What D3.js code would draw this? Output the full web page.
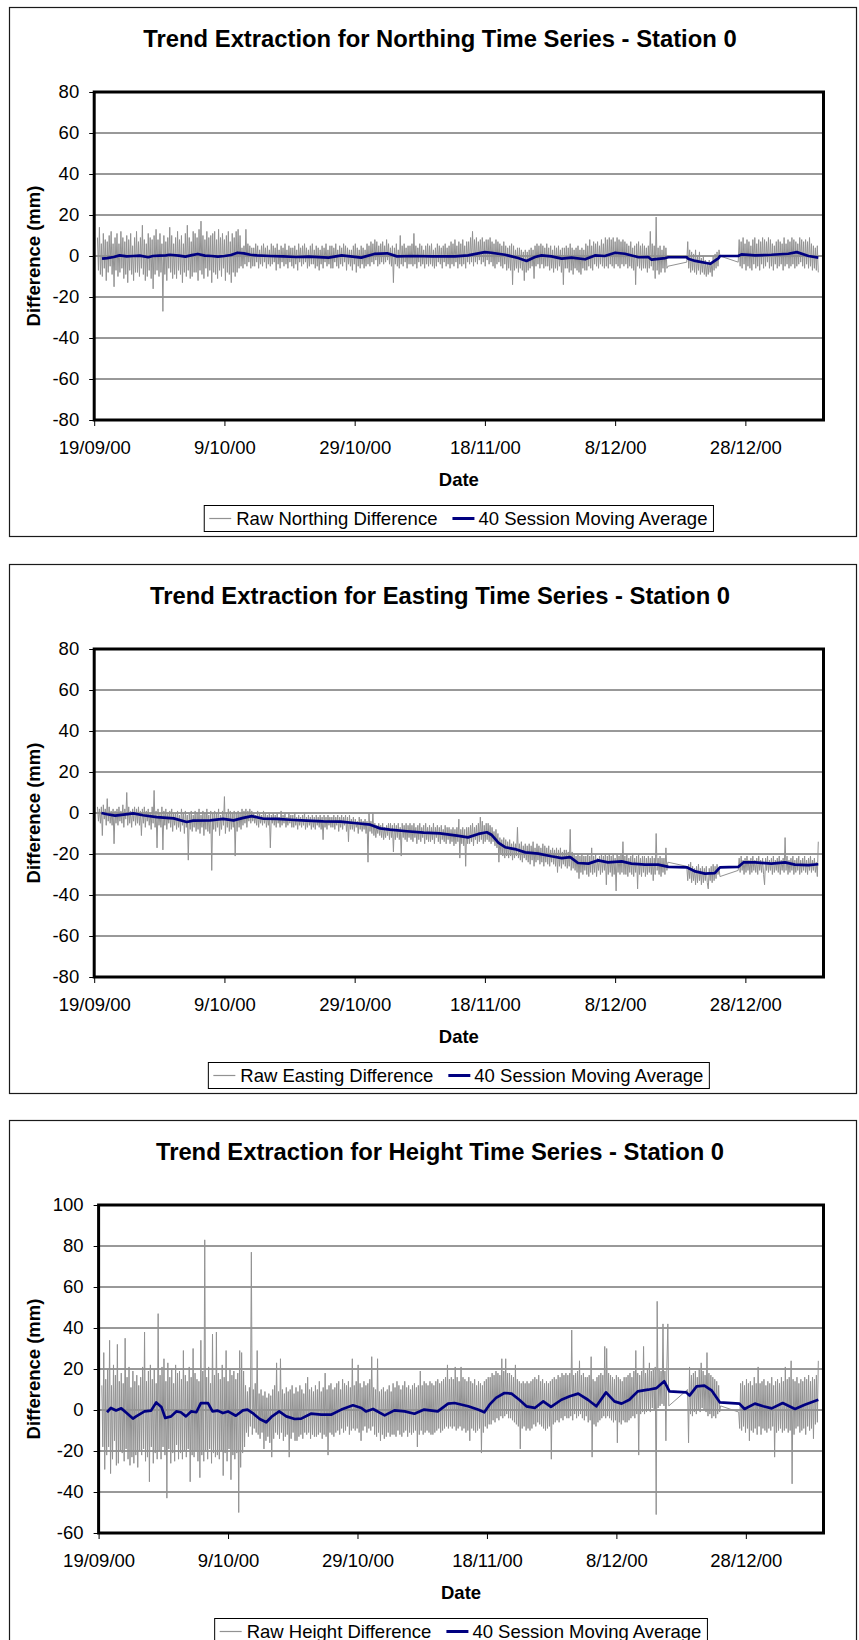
<!DOCTYPE html>
<html>
<head>
<meta charset="utf-8">
<script src="https://cdn.jsdelivr.net/npm/d3@7"></script>
<style>
body{margin:0;background:#fff;}
svg text{font-family:"Liberation Sans",Arial,sans-serif;}
</style>
</head>
<body>
<div id="viz"></div>
<script>
//Date ticks on the x-axis
var xTicks=["2000-09-19","2000-10-09","2000-10-29","2000-11-18","2000-12-08","2000-12-28"];

//Sessions come in three runs (days after 19/09/00), one reading every 0.15 day
var segStarts=[0.5,91.0,98.9];
var sessionStep=0.15;

//Northing raw differences (mm), 20 sessions per row
var northRawA=[9,-7,14,-9,6,-10,11,-6,8,-12,7,-8,10,-5,12,-9,6,-15,9,-7,
11,-10,6,-8,12,-6,9,-11,7,-9,10,-13,8,-7,11,-9,5,-12,9,-8,
12,-8,7,-10,9,-6,15,-9,8,-12,6,-10,11,-7,9,-11,8,-16,10,-9,
13,-7,8,-10,11,-8,6,-27,10,-9,7,-12,9,-6,14,-8,10,-11,6,-9,
9,-11,12,-7,8,-9,10,-13,6,-8,11,-10,15,-7,9,-11,7,-10,12,-8,
11,-8,9,-12,13,-7,17,-9,10,-11,8,-6,12,-10,9,-7,10,-13,11,-8,
12,-9,8,-11,13,-7,9,-10,11,-6,8,-12,10,-8,12,-9,7,-13,11,-8,
9,-10,12,-8,13,-6,10,-5,4,-6,5,-4,13,-5,6,-3,5,-6,4,-5,
4,-5,6,-3,5,-6,3,-4,5,-5,6,-3,4,-6,5,-4,3,-5,6,-4,
5,-3,4,-7,6,-4,3,-6,5,-3,4,-5,6,-4,3,-6,5,-3,4,-5,
4,-6,5,-4,3,-7,6,-3,4,-5,5,-4,6,-3,4,-6,3,-5,5,-4,
6,-4,3,-6,5,-5,4,-7,3,-4,5,-6,4,-3,6,-5,3,-4,5,-6,
5,-6,4,-3,6,-5,3,-6,5,-4,4,-5,6,-3,5,-7,4,-4,3,-5,
3,-7,5,-4,6,-8,4,-5,3,-6,5,-4,4,-6,3,-5,6,-4,5,-5,
7,-3,6,-4,8,-2,7,-5,5,-4,6,-3,7,-4,5,-3,8,-2,6,-4,
4,-5,5,-13,4,-4,6,-5,3,-6,10,-4,5,-5,6,-3,4,-6,5,-4,
5,-4,6,-5,11,-4,5,-6,4,-3,6,-5,5,-4,3,-6,5,-4,6,-5,
5,-4,6,-5,3,-6,4,-5,6,-3,5,-4,4,-6,5,-3,6,-5,4,-4,
5,-6,7,-4,6,-5,8,-3,5,-6,7,-4,6,-5,8,-4,5,-6,7,-3,
7,-4,9,-3,12,-5,8,-3,9,-4,7,-2,8,-4,9,-3,7,-5,8,-2,
8,-4,9,-3,7,-5,6,-6,8,-4,7,-3,6,-5,5,-6,7,-4,5,-7,
4,-6,5,-7,6,-14,5,-7,3,-6,4,-8,4,-6,3,-7,2,-12,3,-8,
2,-7,3,-6,4,-5,3,-11,5,-5,6,-4,5,-6,6,-4,5,-6,4,-5,
6,-5,4,-7,5,-6,3,-8,5,-6,4,-7,5,-5,3,-8,4,-14,4,-6,
5,-6,4,-8,6,-7,4,-9,3,-6,4,-7,5,-8,3,-9,4,-6,3,-7,
6,-7,5,-5,8,-6,5,-7,7,-4,6,-5,7,-6,5,-4,8,-5,6,-6,
9,-5,8,-6,9,-4,8,-5,9,-6,7,-4,9,-5,8,-6,7,-4,8,-5,
7,-4,6,-6,5,-5,7,-6,4,-7,5,-14,6,-5,7,-6,5,-7,6,-6,
5,-6,4,-8,5,-6,12,-5,6,-7,5,-11,19,-7,4,-9,5,-8,3,-6,
5,-8,4,-6,-5];
var northRawB=[-3,7,-6,3,-8,2,-7,1,-8,3,-9,0,-7,2,-9,-1,-8,0,-9,-2,
-10,-3,-9,-2,-8,-3,-10,0,-7,1,-6,2,-5,3,0];
var northRawC=[-3,8,-5,7,-6,9,-4,6,-7,8,-5,7,-6,5,-7,8,-4,9,-6,6,
-5,8,-7,7,-4,9,-6,8,-5,7,-3,9,-6,8,-5,6,-7,5,-4,7,
-6,8,-5,7,-4,6,-7,9,-5,6,-4,8,-6,7,-5,9,-4,8,-6,7,
-5,6,-4,9,-3,8,-5,7,-6,8,-4,7,-6,9,-5,6,-7,5,-6,4,
-7,5,-8];
//Northing 40 session moving average [day, mm]
var northMA=[[1.2,-1.3],[2,-1],[3,-0.5],[3.9,0.3],[5,-0.2],[6,0],[7,0.2],[8.3,-0.6],[9,0],[10,0.2],
[11,0.3],[11.6,0.6],[13,0.2],[14,-0.3],[15,0.4],[15.9,1],[17,0.2],[18,0],[19,-0.3],[20,0],
[21,0.5],[22,1.6],[23,1.3],[24,0.6],[25,0.3],[27,0],[29,-0.2],[31,-0.5],[33,-0.3],[36,-0.8],
[38,0.3],[41,-0.8],[43,1],[45,1.3],[46.5,-0.2],[49,0],[52,-0.2],[55.4,-0.2],[57.4,0.3],[60,1.9],
[61,1.6],[63.1,0.6],[65.1,-1],[66.4,-2.4],[67.7,-0.5],[68.7,0.3],[70.2,-0.2],[71.8,-1.3],[73.3,-0.8],[75.4,-1.6],
[76.9,0.3],[78.4,0],[80,1.6],[81.5,1.1],[83.6,-0.6],[85.1,-0.5],[85.6,-1.8],[87.7,-1],[88.2,-0.6],[91,-0.6],
[91.2,-1.3],[92.3,-2.4],[94.6,-3.8],[95.9,-1],[96.1,0],[98.9,0],[99.4,0.8],[101.5,0.3],[104,0.6],[106.6,1.1],
[107.9,1.9],[109.7,0],[111.2,-0.8]];

//Easting raw differences (mm)
var eastRawA=[3,-4,2,-5,3,-11,4,-3,2,-6,7,-4,3,-5,1,-6,2,-15,1,-5,
2,-6,3,-4,1,-5,4,-7,2,-3,10,-6,3,-5,1,-7,2,-4,3,-6,
2,-5,3,-6,1,-11,2,-5,3,-7,1,-4,2,-6,0,-8,3,-5,11,-7,
1,-17,2,-6,0,-7,3,-18,1,-6,2,-8,0,-5,1,-7,2,-9,0,-6,
0,-8,1,-7,-1,-9,2,-6,0,-10,1,-7,-1,-23,0,-8,1,-9,-1,-7,
1,-9,0,-8,2,-10,-1,-7,1,-11,0,-8,2,-9,-1,-10,1,-28,0,-8,
1,-9,0,-7,2,-11,-1,-8,1,-6,8,-10,0,-7,2,-9,1,-8,0,-7,
1,-21,0,-9,1,-7,0,-8,2,-6,1,-5,2,-7,1,-4,2,-5,1,-4,
0,-5,-1,-6,1,-7,0,-5,-1,-6,1,-5,0,-7,-1,-6,0,-17,-1,-5,
0,-6,-1,-7,0,-5,-2,-7,1,-6,-1,-5,0,-7,-2,-6,0,-5,-1,-7,
-1,-7,0,-6,-2,-8,-1,-6,-2,-7,-1,-6,0,-8,-2,-7,-1,-6,-2,-8,
-1,-7,-2,-8,-1,-6,-2,-7,-1,-8,-2,-13,-1,-7,-2,-8,-1,-6,-2,-7,
-2,-7,-1,-8,-2,-6,-1,-9,-2,-7,-1,-8,-2,-6,-1,-9,-2,-14,-1,-8,
-3,-8,-2,-9,-3,-7,-4,-10,-2,-8,-3,-9,-4,-8,-3,-10,-4,-24,0,-9,
-4,-10,0,-11,-5,-12,-6,-10,-5,-11,-6,-12,-5,-13,-7,-12,-6,-11,-5,-13,
-5,-12,-6,-19,-5,-13,-6,-12,-5,-13,-7,-21,-5,-12,-6,-13,-5,-14,-6,-12,
-5,-13,-6,-14,-5,-12,-7,-15,-6,-13,-5,-14,-7,-12,-6,-15,-5,-13,-7,-14,
-6,-14,-7,-13,-5,-15,-7,-12,-6,-14,-7,-15,-6,-13,-8,-14,-6,-15,-7,-13,
-7,-15,-8,-14,-7,-16,-8,-15,-7,-14,-3,-22,-8,-15,-7,-16,-8,-26,-7,-15,
-7,-15,-6,-14,-5,-16,-7,-13,-6,-15,-5,-14,-2,-13,-4,-15,-6,-14,-5,-13,
-5,-14,-6,-15,-7,-14,-9,-16,-8,-17,-10,-24,-12,-20,-13,-21,-12,-22,-13,-21,
-14,-22,-13,-21,-15,-23,-14,-22,-15,-21,-7,-22,-15,-23,-14,-24,-16,-22,-15,-23,
-16,-24,-15,-25,-16,-23,-14,-26,-17,-24,-15,-23,-16,-25,-17,-24,-15,-26,-16,-24,
-17,-25,-16,-26,-18,-24,-17,-25,-18,-26,-17,-29,-18,-26,-17,-27,-19,-25,-18,-26,
-18,-27,-19,-26,-8,-28,-19,-27,-20,-28,-21,-29,-20,-32,-21,-29,-20,-30,-21,-28,
-21,-30,-20,-31,-21,-29,-17,-30,-21,-29,-20,-31,-22,-28,-21,-30,-20,-29,-21,-28,
-20,-35,-21,-30,-20,-29,-21,-31,-20,-30,-22,-38,-20,-29,-21,-30,-20,-29,-14,-30,
-21,-30,-20,-31,-22,-29,-21,-30,-20,-31,-22,-29,-21,-37,-20,-30,-22,-31,-21,-29,
-21,-31,-22,-30,-21,-29,-22,-30,-21,-33,-22,-30,-10,-28,-22,-30,-21,-31,-22,-29,
-22,-30,-17,-28,-24];
var eastRawB=[-26,-33,-25,-32,-24,-34,-26,-33,-27,-35,-26,-34,-25,-33,-27,-35,-26,-34,-27,-33,
-26,-34,-37,-27,-33,-26,-34,-25,-33,-26,-32,-25,-30,-27,-31];
var eastRawC=[-28,-22,-29,-21,-28,-23,-30,-22,-29,-21,-28,-23,-30,-22,-29,-21,-28,-23,-29,-22,
-30,-21,-28,-23,-29,-22,-30,-35,-22,-28,-21,-29,-23,-28,-22,-30,-21,-29,-23,-28,
-22,-29,-21,-30,-23,-28,-22,-29,-12,-28,-21,-30,-23,-29,-22,-28,-21,-30,-23,-29,
-22,-28,-21,-30,-23,-29,-22,-28,-21,-29,-23,-30,-22,-28,-21,-29,-23,-28,-22,-29,
-24,-31,-14];
var eastMA=[[1.1,0],[2,-0.6],[3.2,-1.3],[4.5,-0.8],[6,-0.2],[7.5,-1.1],[9.6,-2],[12.2,-2.6],[14.2,-4.4],[15.2,-3.7],
[17.8,-3.6],[19.8,-2.9],[21.4,-3.6],[22.9,-2.4],[24.2,-1.5],[26,-2.8],[28,-2.9],[30.1,-3.3],[32.6,-3.7],[35.2,-4.1],
[37.8,-4.2],[40.3,-5],[42.4,-5.7],[43.9,-7.5],[45.4,-8.1],[48,-8.9],[50.6,-9.6],[53.1,-9.9],[55.7,-11],[57.4,-11.9],
[59,-10.2],[60.3,-9.4],[61,-10.6],[62.1,-14.6],[63.1,-16.7],[64.6,-17.6],[66.2,-19.2],[68.2,-19.8],[70.2,-21.1],[71.8,-22],
[73.1,-21.5],[74.3,-24.4],[75.9,-24.7],[77.4,-23.1],[78.9,-24.1],[81,-23.6],[82.5,-24.7],[84.6,-25.2],[86.6,-25.2],[88.2,-26.3],
[91,-26.5],[92.3,-28.5],[93.8,-29.6],[95.3,-29.3],[96.1,-26.5],[98.9,-26.3],[99.7,-24.1],[101.5,-24.1],[104,-24.7],[106.1,-24.1],
[107.6,-25.2],[109.7,-25.4],[111.2,-25]];

//Height raw differences (mm)
var heightRawA=[12,-18,28,-29,15,-22,20,-18,34,-31,12,-24,22,-15,17,-27,32,-26,14,-20,
18,-21,13,-25,35,-19,16,-24,21,-27,11,-23,19,-26,14,-22,17,-28,12,-20,
16,-22,21,-19,38,-25,14,-23,19,-35,22,-18,15,-26,20,-21,13,-24,47,-20,
17,-24,21,-18,25,-22,14,-43,23,-19,16,-26,20,-21,13,-25,22,-17,18,-24,
19,-21,15,-24,29,-20,17,-23,14,-19,21,-35,16,-22,30,-23,18,-20,15,-25,
14,-33,34,-22,19,-25,83,-20,16,-24,21,-19,13,-26,37,-21,17,-23,38,-22,
18,-24,15,-20,22,-32,16,-21,29,-25,14,-19,20,-34,17,-22,19,-24,15,-21,
18,-50,29,-28,28,-21,19,-18,12,-11,9,-13,11,-8,77,-12,10,-9,13,-11,
29,-12,8,-14,10,-11,7,-19,9,-15,6,-13,8,-16,7,-23,10,-14,12,-11,
23,-12,9,-14,25,-11,10,-15,8,-13,11,-12,9,-23,10,-14,12,-11,8,-15,
11,-15,9,-13,12,-12,10,-14,8,-11,13,-12,16,-11,10,-14,11,-12,9,-13,
12,-13,10,-12,14,-11,9,-14,11,-12,18,-13,10,-22,12,-11,13,-12,10,-13,
11,-11,13,-10,14,-12,10,-9,15,-11,13,-10,12,-8,14,-12,11,-10,25,-9,
12,-10,14,-9,22,-11,13,-15,11,-10,14,-8,12,-11,13,-9,15,-10,26,-8,
11,-12,10,-13,25,-11,9,-15,10,-12,11,-14,9,-13,10,-11,12,-13,9,-12,
13,-12,11,-13,14,-10,12,-12,10,-13,12,-11,14,-10,11,-13,12,-11,10,-12,
12,-11,13,-10,11,-18,12,-12,19,-10,12,-12,14,-11,13,-10,12,-11,14,-12,
13,-12,12,-11,14,-10,15,-9,13,-11,14,-10,15,-9,16,-8,22,-9,15,-8,
16,-9,15,-8,21,-10,16,-9,14,-8,21,-10,16,-9,15,-11,14,-10,16,-15,
14,-9,13,-10,15,-11,12,-10,14,-9,13,-21,12,-11,14,-8,15,-9,16,-7,
16,-7,18,-5,17,-6,19,-4,18,-5,17,-3,25,-4,19,-3,25,-2,18,-4,
18,-4,17,-5,16,-6,22,-7,15,-8,14,-19,13,-9,14,-8,13,-10,14,-9,
13,-10,14,-9,15,-7,16,-8,15,-6,17,-7,14,-8,15,-9,13,-10,14,-9,
13,-8,14,-24,15,-7,16,-6,15,-5,17,-6,16,-4,18,-5,17,-3,18,-4,
17,-4,18,-3,39,-5,17,-2,18,-4,19,-3,24,-2,17,-4,18,-5,16,-3,
16,-6,17,-5,26,-23,15,-7,14,-8,16,-6,17,-5,18,-4,17,-3,31,-4,
30,-3,18,-4,17,-5,16,-6,15,-5,17,-16,16,-6,15,-7,14,-5,16,-6,
16,-6,17,-5,18,-4,16,-3,19,-4,29,-2,18,-22,17,-2,19,-1,31,-2,
18,-1,20,0,23,-1,19,1,20,0,21,-51,53,1,20,2,19,3,42,2,
19,-15,21,42,2];
var heightRawB=[10,-16,21,-2,17,-3,18,-1,19,-2,16,0,20,-1,23,1,19,0,17,-1,
28,-3,18,-2,17,-4,16,-3,15,-4,14,-2,12,-1,2];
var heightRawC=[-1,-9,13,-10,14,-8,12,-11,15,-9,13,-15,14,-10,12,-11,16,-9,13,-12,
21,-8,13,-12,14,-9,15,-10,12,-11,14,-9,13,-10,16,-8,12,-23,14,-11,
15,-10,13,-9,16,-11,14,-10,21,-9,15,-11,16,-10,24,-36,15,-12,14,-9,
16,-8,13,-11,15,-10,14,-9,16,-12,15,-8,17,-10,14,-9,16,-14,15,-7,
17,-6,24];
var heightMA=[[1.3,-1.1],[1.9,1],[2.7,-0.2],[3.5,0.8],[4.2,-1.1],[5.3,-4.2],[5.8,-3.1],[7.1,-0.7],[8.1,-0.3],[8.9,3.7],
[9.7,1.5],[10.3,-3.9],[11.2,-3.1],[12,-0.7],[12.7,-1.1],[13.5,-3.1],[14.3,-0.7],[15.1,-1.1],[15.8,3.4],[16.9,3.4],
[17.6,-0.7],[18.4,-0.3],[19.2,-1.5],[20,-0.7],[21.2,-2.8],[22.3,-0.2],[23,0.2],[23.8,-1.5],[24.9,-4.4],[25.9,-6],
[26.7,-3.4],[27.9,-0.7],[29,-3.1],[30.3,-4.4],[31.3,-4.2],[32.8,-1.8],[34.4,-2.3],[35.9,-2.3],[37.5,0.2],[39.3,2.3],
[40.6,1],[41.3,-0.7],[42.4,0.5],[44.2,-2.6],[45.7,-0.2],[47.3,-0.7],[48.8,-1.8],[50.3,0.2],[52.4,-0.7],[54,3.1],
[55,3.4],[57.1,1.8],[58.6,0.2],[59.6,-1.1],[60.4,2.6],[61.4,5.9],[62.7,8.3],[63.8,8],[65,5],[66.1,1.8],
[67.4,1],[68.7,4.2],[69.9,1.5],[71.5,5],[72.8,6.7],[74.1,8],[75.6,5],[76.9,1.8],[78.4,8.6],[79.7,4.2],
[80.8,3.1],[82,5],[83.3,9.1],[84.9,9.9],[86.2,10.7],[87.4,14],[88.2,9.1],[90.8,8.6],[91.3,7],[92.4,11.5],
[93.6,11.9],[94.7,9.6],[96,3.7],[99,3.1],[99.8,0.5],[101.4,3.1],[102.7,1.8],[104,0.8],[105.7,3.4],[107.6,0.5],
[109.1,2.6],[111.2,5]];

var northTicks=[-80,-60,-40,-20,0,20,40,60,80];
var heightTicks=[-60,-40,-20,0,20,40,60,80,100];

var w=859, h=1640;
var svg=d3.select("#viz")
          .append("svg")
          .attr("width",w)
          .attr("height",h);

var day0=Date.UTC(2000,8,19);
var toDate=function(d) {return new Date(day0+d*864e5);};
var formatDate=d3.utcFormat("%-d/%m/%y");

//Turn the three runs of sessions into [day, value] points
var rawPoints=function(segs) {
    var pts=[];
    segs.forEach(function(seg,k) {
        seg.forEach(function(v,i) {pts.push([segStarts[k]+i*sessionStep,v]);});
    });
    return pts;
};

var drawChart=function(c) {
    var top=c.top, left=c.plotLeft, right=823.5;
    var pTop=top+85, pBot=pTop+328;
    var g=svg.append("g");

    //Chart border
    g.append("rect")
     .attr("x",9.5).attr("y",top+0.5)
     .attr("width",847).attr("height",529)
     .attr("fill","none").attr("stroke","#1a1a1a").attr("stroke-width",1.2);

    var xScale=d3.scaleUtc()
                 .domain([toDate(0),toDate(112)])
                 .range([left,right]);
    var yScale=d3.scaleLinear()
                 .domain([c.yTicks[0],c.yTicks[c.yTicks.length-1]])
                 .range([pBot,pTop]);

    //Gridlines
    g.selectAll(".grid")
     .data(c.yTicks)
     .enter()
     .append("line")
     .attr("x1",left).attr("x2",right)
     .attr("y1",function(d) {return yScale(d);})
     .attr("y2",function(d) {return yScale(d);})
     .attr("stroke","#333")
     .attr("stroke-width",1);

    //Axes
    var yAxis=d3.axisLeft(yScale)
                .tickValues(c.yTicks)
                .tickFormat(function(d) {return String(d);})
                .tickSize(5).tickPadding(10);
    var yg=g.append("g").attr("transform","translate("+left+",0)").call(yAxis);
    var xAxis=d3.axisBottom(xScale)
                .tickValues(xTicks.map(function(s) {return new Date(s+"T00:00:00Z");}))
                .tickFormat(formatDate)
                .tickSize(6).tickPadding(15);
    var xg=g.append("g").attr("transform","translate(0,"+pBot+")").call(xAxis);
    [yg,xg].forEach(function(a) {
        a.select(".domain").remove();
        a.selectAll("text").attr("font-size","18.5px").attr("fill","#000")
         .style("font-family","'Liberation Sans',Arial,sans-serif");
        a.selectAll("line").attr("stroke","#000");
    });

    var line=d3.line()
               .x(function(d) {return xScale(toDate(d[0]));})
               .y(function(d) {return yScale(d[1]);});

    //Raw series
    g.append("path")
     .datum(rawPoints(c.raw))
     .attr("d",line)
     .attr("fill","none")
     .attr("stroke","#929292")
     .attr("stroke-width",1);

    //Moving average
    g.append("path")
     .datum(c.ma)
     .attr("d",line)
     .attr("fill","none")
     .attr("stroke","#000080")
     .attr("stroke-width",2.7)
     .attr("stroke-linejoin","round");

    //Plot area border
    g.append("rect")
     .attr("x",left).attr("y",pTop)
     .attr("width",right-left).attr("height",pBot-pTop)
     .attr("fill","none").attr("stroke","#000").attr("stroke-width",3);

    //Title and axis labels
    g.append("text")
     .attr("x",440).attr("y",top+39.6)
     .attr("text-anchor","middle")
     .attr("font-size","23.8px").attr("font-weight","bold")
     .text(c.title);
    g.append("text")
     .attr("x",(left+right)/2).attr("y",pBot+65.8)
     .attr("text-anchor","middle")
     .attr("font-size","18.5px").attr("font-weight","bold")
     .text("Date");
    g.append("text")
     .attr("transform","translate(39.6,"+((pTop+pBot)/2)+") rotate(-90)")
     .attr("text-anchor","middle")
     .attr("font-size","18.5px").attr("font-weight","bold")
     .text("Difference (mm)");

    //Legend
    var lg=g.append("g");
    var ly=pBot+85.5;
    var t1=lg.append("text").attr("font-size","18.5px").text(c.rawLabel);
    var t2=lg.append("text").attr("font-size","18.5px").text("40 Session Moving Average");
    var w1=t1.node().getComputedTextLength(), w2=t2.node().getComputedTextLength();
    var total=5+22+5+w1+15+22+4+w2+6;
    var lx=(left+right)/2-total/2;
    lg.insert("rect",":first-child")
      .attr("x",lx).attr("y",ly).attr("width",total).attr("height",26)
      .attr("fill","#fff").attr("stroke","#000").attr("stroke-width",1);
    lg.append("line")
      .attr("x1",lx+5).attr("x2",lx+27).attr("y1",ly+13).attr("y2",ly+13)
      .attr("stroke","#929292").attr("stroke-width",1.2);
    t1.attr("x",lx+32).attr("y",ly+13+6.6);
    var x2=lx+32+w1+15;
    lg.append("line")
      .attr("x1",x2).attr("x2",x2+22).attr("y1",ly+13).attr("y2",ly+13)
      .attr("stroke","#000080").attr("stroke-width",3);
    t2.attr("x",x2+26).attr("y",ly+13+6.6);
};

drawChart({top:7,plotLeft:94.2,yTicks:northTicks,
           title:"Trend Extraction for Northing Time Series - Station 0",
           rawLabel:"Raw Northing Difference",
           raw:[northRawA,northRawB,northRawC],ma:northMA});
drawChart({top:564,plotLeft:94.2,yTicks:northTicks,
           title:"Trend Extraction for Easting Time Series - Station 0",
           rawLabel:"Raw Easting Difference",
           raw:[eastRawA,eastRawB,eastRawC],ma:eastMA});
drawChart({top:1120,plotLeft:98.6,yTicks:heightTicks,
           title:"Trend Extraction for Height Time Series - Station 0",
           rawLabel:"Raw Height Difference",
           raw:[heightRawA,heightRawB,heightRawC],ma:heightMA});
</script>
</body>
</html>
